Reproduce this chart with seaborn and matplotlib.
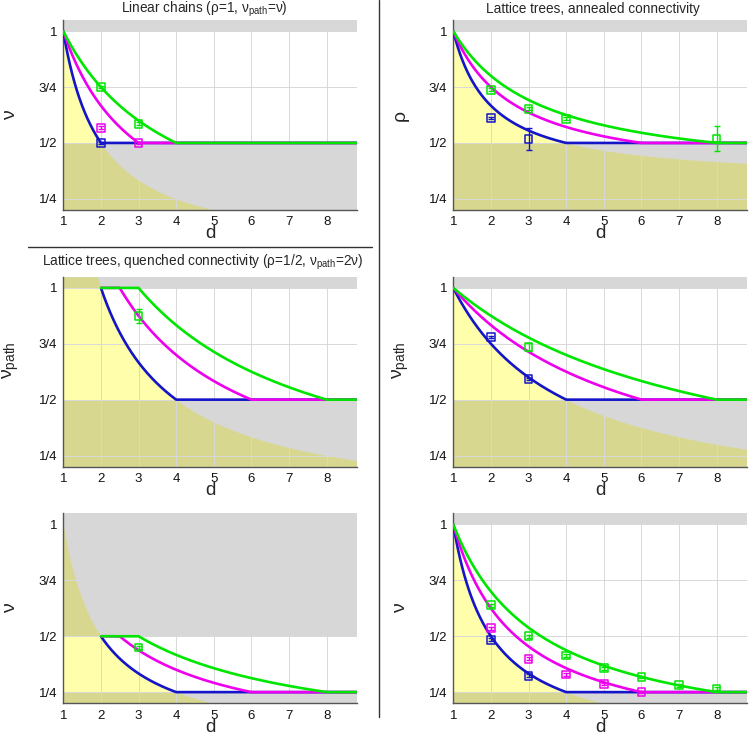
import numpy as np
import pandas as pd
import matplotlib
matplotlib.use("Agg")
import matplotlib.pyplot as plt
import seaborn as sns

sns.set_style("white")
plt.rcParams["font.family"] = ["Liberation Sans", "DejaVu Sans"]
plt.rcParams["mathtext.fontset"] = "custom"
plt.rcParams["mathtext.rm"] = "Liberation Sans"
plt.rcParams["mathtext.it"] = "Liberation Sans:italic"

# ---------------- data ----------------
series = ["blue", "magenta", "green"]
series_colors = {"blue": "#1414c8", "magenta": "#ee00ee", "green": "#00e600"}
# Flory theory: order of the many-body interaction term per series (inf = compact limit)
k_body = {"blue": np.inf, "magenta": 3, "green": 2}
rho_linear = 1.0
rho_quenched = 0.5
d_min, d_max = 1.0, 8.8
quenched_d_start = 2.0

x_ticks = [1, 2, 3, 4, 5, 6, 7, 8]
y_ticks = [0.25, 0.5, 0.75, 1.0]
y_ticklabels = ["1/4", "1/2", "3/4", "1"]

# simulation points: d, value, error
lin_green_d, lin_green_v, lin_green_e = [2, 3], [0.750, 0.586], [0.006, 0.006]
lin_magenta_d, lin_magenta_v, lin_magenta_e = [2, 3], [0.568, 0.500], [0.006, 0.006]
lin_blue_d, lin_blue_v, lin_blue_e = [2], [0.500], [0.006]

ann_rho_green_d, ann_rho_green_v, ann_rho_green_e = [2, 3, 4, 8], [0.738, 0.653, 0.608, 0.520], [0.006, 0.006, 0.006, 0.054]
ann_rho_blue_d, ann_rho_blue_v, ann_rho_blue_e = [2, 3], [0.612, 0.518], [0.006, 0.051]

q_path_green_d, q_path_green_v, q_path_green_e = [3], [0.874], [0.030]

ann_path_blue_d, ann_path_blue_v, ann_path_blue_e = [2, 3], [0.780, 0.592], [0.006, 0.006]
ann_path_green_d, ann_path_green_v, ann_path_green_e = [3], [0.735], [0.018]

q_nu_green_d, q_nu_green_v, q_nu_green_e = [3], [0.449], [0.008]

ann_nu_green_d = [2, 3, 4, 5, 6, 7, 8]
ann_nu_green_v = [0.639, 0.500, 0.414, 0.357, 0.317, 0.281, 0.266]
ann_nu_green_e = [0.006] * 7
ann_nu_magenta_d = [2, 3, 4, 5, 6]
ann_nu_magenta_v = [0.536, 0.399, 0.328, 0.286, 0.251]
ann_nu_magenta_e = [0.006] * 5
ann_nu_blue_d = [2, 3]
ann_nu_blue_v = [0.484, 0.323]
ann_nu_blue_e = [0.006, 0.006]

# ---------------- theory ----------------
d = np.linspace(d_min, d_max, 800)


def nu_fixed_rho(dd, rho, k):
    if np.isinf(k):
        return 1.0 / dd
    return (rho + k) / (2.0 + dd * (k - 1))


def nu_annealed(dd, k):
    if np.isinf(k):
        return 1.0 / dd
    return (3 * k + 1) / (4.0 + 3 * dd * (k - 1))


def curves(kind):
    out = {}
    for s in series:
        k = k_body[s]
        if kind == "lin_nu":
            out[s] = (d, np.maximum(0.5, nu_fixed_rho(d, rho_linear, k)))
        elif kind in ("q_nu", "q_path"):
            m = d >= quenched_d_start
            v = np.clip(nu_fixed_rho(d[m], rho_quenched, k), 0.25, 0.5)
            out[s] = (d[m], v if kind == "q_nu" else v / rho_quenched)
        else:
            nu = np.maximum(0.25, nu_annealed(d, k))
            rho = (2 * nu + 1) / 3.0
            if kind == "ann_nu":
                out[s] = (d, nu)
            elif kind == "ann_rho":
                out[s] = (d, rho)
            else:
                out[s] = (d, nu / rho)
    return out


def compact_bound(kind):
    nu = 1.0 / d
    if kind in ("lin_nu", "q_nu", "ann_nu"):
        return nu
    if kind == "q_path":
        return nu / rho_quenched
    rho = (2 * nu + 1) / 3.0
    if kind == "ann_rho":
        return rho
    return nu / rho


panels = [
    dict(kind="lin_nu", rect=(63.3, 20), ylabel="ν", ly=0.5, gray=(0.5, 1.0),
         pts=[("green", lin_green_d, lin_green_v, lin_green_e),
              ("magenta", lin_magenta_d, lin_magenta_v, lin_magenta_e),
              ("blue", lin_blue_d, lin_blue_v, lin_blue_e)]),
    dict(kind="ann_rho", rect=(453.3, 20), ylabel="ρ", ly=0.5, gray=(0.5, 1.0),
         pts=[("green", ann_rho_green_d, ann_rho_green_v, ann_rho_green_e),
              ("blue", ann_rho_blue_d, ann_rho_blue_v, ann_rho_blue_e)]),
    dict(kind="q_path", rect=(63.3, 276.7), ylabel="ν$_{\\mathrm{path}}$", ly=0.56, gray=(0.5, 1.0),
         pts=[("green", q_path_green_d, q_path_green_v, q_path_green_e)]),
    dict(kind="ann_path", rect=(453.3, 276.7), ylabel="ν$_{\\mathrm{path}}$", ly=0.56, gray=(0.5, 1.0),
         pts=[("blue", ann_path_blue_d, ann_path_blue_v, ann_path_blue_e),
              ("green", ann_path_green_d, ann_path_green_v, ann_path_green_e)]),
    dict(kind="q_nu", rect=(63.3, 513.3), ylabel="ν", ly=0.5, gray=(0.25, 0.5),
         pts=[("green", q_nu_green_d, q_nu_green_v, q_nu_green_e)]),
    dict(kind="ann_nu", rect=(453.3, 513.3), ylabel="ν", ly=0.5, gray=(0.25, 1.0),
         pts=[("green", ann_nu_green_d, ann_nu_green_v, ann_nu_green_e),
              ("magenta", ann_nu_magenta_d, ann_nu_magenta_v, ann_nu_magenta_e),
              ("blue", ann_nu_blue_d, ann_nu_blue_v, ann_nu_blue_e)]),
]

W, H = 750, 736
fig = plt.figure(figsize=(W / 100, H / 100), dpi=100)
ax_w, ax_h = 293.4, 190.0
y_lo, y_hi = 0.2, 1.05

for p in panels:
    x0, top = p["rect"]
    ax = fig.add_axes([x0 / W, 1 - (top + ax_h) / H, ax_w / W, ax_h / H])
    ax.set_xlim(d_min, d_max)
    ax.set_ylim(y_lo, y_hi)
    # yellow: compact bound region
    bound = np.minimum(compact_bound(p["kind"]), y_hi)
    ax.fill_between(d, y_lo, bound, color="#ffff00", alpha=0.33, lw=0, zorder=0.5)
    # gray: forbidden regions
    g_lo, g_hi = p["gray"]
    ax.fill_between([d_min, d_max], y_lo, g_lo, color="black", alpha=0.155, lw=0, zorder=0.6)
    ax.fill_between([d_min, d_max], g_hi, y_hi, color="black", alpha=0.155, lw=0, zorder=0.6)

    cv = curves(p["kind"])
    for s in series:
        xx, yy = cv[s]
        df = pd.DataFrame({"d": xx, "v": yy})
        sns.lineplot(data=df, x="d", y="v", ax=ax, color=series_colors[s], lw=1.9,
                     sort=False, estimator=None, zorder=3)
    for s, xs, vs, es in p["pts"]:
        ax.errorbar(xs, vs, yerr=es, fmt="none", ecolor=series_colors[s],
                    elinewidth=1.0, capsize=2.2, capthick=1.0, zorder=4)
        dfp = pd.DataFrame({"d": xs, "v": vs})
        sns.scatterplot(data=dfp, x="d", y="v", ax=ax, marker="s", s=30,
                        facecolor="none", edgecolor=series_colors[s], linewidth=1.1, zorder=5)

    ax.set_xticks(x_ticks)
    ax.set_yticks(y_ticks)
    ax.set_yticklabels(y_ticklabels)
    ax.set_axisbelow("line")
    ax.grid(True, color="#d8d8d8", lw=0.7)
    for sp in ["top", "right"]:
        ax.spines[sp].set_visible(False)
    for sp in ["left", "bottom"]:
        ax.spines[sp].set_color("#555555")
        ax.spines[sp].set_linewidth(1.0)
    ax.tick_params(axis="both", labelsize=9.5, length=0, pad=4.5, colors="#111111")
    ax.set_xlabel("d", fontsize=13.5)
    ax.xaxis.label.set_va("baseline")
    ax.xaxis.set_label_coords(0.5, -28.5 / ax_h)
    ax.set_ylabel(p["ylabel"], fontsize=14)
    ax.yaxis.label.set_va("center")
    ax.yaxis.set_label_coords(-0.18, p["ly"])

# titles
fig.text(204 / W, 1 - 9 / H, "Linear chains (ρ=1, ν$_{\\mathrm{path}}$=ν)",
         ha="center", va="center", fontsize=9.8)
fig.text(593 / W, 1 - 9 / H, "Lattice trees, annealed connectivity",
         ha="center", va="center", fontsize=9.8)
fig.text(203 / W, 1 - 262 / H, "Lattice trees, quenched connectivity (ρ=1/2, ν$_{\\mathrm{path}}$=2ν)",
         ha="center", va="center", fontsize=9.8)

# separators
fig.add_artist(plt.Line2D([28 / W, 372 / W], [1 - 247.3 / H, 1 - 247.3 / H],
                          color="#333333", lw=1.0, transform=fig.transFigure))
fig.add_artist(plt.Line2D([378.5 / W, 378.5 / W], [1.0, 1 - 717 / H],
                          color="#333333", lw=1.0, transform=fig.transFigure))

fig.savefig("out.png", dpi=100, facecolor="white")
